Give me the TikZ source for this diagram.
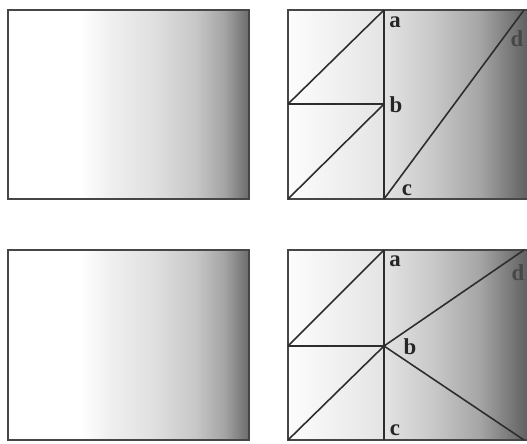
\documentclass[tikz,border=0pt]{standalone}
\usepackage{fontspec}
\setmainfont{Liberation Serif}
\usetikzlibrary{positioning}
\definecolor{FrameGray}{RGB}{70,70,70}
\definecolor{LineGray}{RGB}{45,45,45}
% the picture maps the middle 25bp--75bp of a shading onto the path
\pgfdeclarehorizontalshading{LeftFade}{100bp}{color(0bp)=(white); color(25bp)=(white); color(40bp)=(white); color(46bp)=(black!6); color(55bp)=(black!12); color(64bp)=(black!22); color(70bp)=(black!36); color(75bp)=(black!58); color(100bp)=(black!58)}
\pgfdeclarehorizontalshading{RightFade}{100bp}{color(0bp)=(white); color(25bp)=(black!1); color(44bp)=(black!10); color(55bp)=(black!21); color(65bp)=(black!35); color(75bp)=(black!62); color(100bp)=(black!62)}
\tikzset{
  panel/.style={draw=FrameGray, line width=1.2pt},
  cut/.style={draw=LineGray, line width=0.9pt},
  tag/.style={font=\fontsize{13}{15}\selectfont\bfseries, text=black!85, inner sep=0pt}
}

\begin{document}
\begin{tikzpicture}[x=0.02cm, y=-0.02cm]
    \useasboundingbox (0,0) rectangle (527,443);

    % plain panels
    \shade[shading=LeftFade] (8,10) rectangle (249,199);
    \draw[panel] (8,10) rectangle (249,199);
    \shade[shading=LeftFade] (8,250) rectangle (249,440);
    \draw[panel] (8,250) rectangle (249,440);

    % divided panels (cut off at the right)
    \shade[shading=RightFade] (288,10) rectangle (527,199);
    \draw[panel] (527,10) -- (288,10) -- (288,199) -- (527,199);
    \shade[shading=RightFade] (288,250) rectangle (527,440);
    \draw[panel] (527,250) -- (288,250) -- (288,440) -- (527,440);

    % top right
    \coordinate (ta) at (384,10);
    \coordinate (tb) at (384,104);
    \coordinate (tc) at (384,199);
    \coordinate (td) at (524,10);
    \coordinate (tm) at (288,104);
    \coordinate (tn) at (288,199);
    \draw[cut] (ta) -- (tc);
    \draw[cut] (tm) -- (tb);
    \draw[cut] (tm) -- (ta);
    \draw[cut] (tn) -- (tb);
    \draw[cut] (tc) -- (td);
    \node[tag] (taLbl) at (395,22) {a};
    \node[tag] (tbLbl) at (396,105) {b};
    \node[tag] (tcLbl) at (407,190) {c};
    \node[tag, text=black!72] (tdLbl) at (517,39) {d};

    % bottom right
    \coordinate (ba) at (384,250);
    \coordinate (bb) at (384,346);
    \coordinate (bc) at (384,440);
    \coordinate (bd) at (524,250);
    \coordinate (be) at (524,440);
    \coordinate (bm) at (288,346);
    \coordinate (bn) at (288,440);
    \draw[cut] (ba) -- (bc);
    \draw[cut] (bm) -- (bb);
    \draw[cut] (bm) -- (ba);
    \draw[cut] (bn) -- (bb);
    \draw[cut] (bb) -- (bd);
    \draw[cut] (bb) -- (be);
    \node[tag] (baLbl) at (395,261) {a};
    \node[tag] (bbLbl) at (410,347) {b};
    \node[tag] (bcLbl) at (395,430) {c};
    \node[tag, text=black!72] (bdLbl) at (518,273) {d};
\end{tikzpicture}
\end{document}
